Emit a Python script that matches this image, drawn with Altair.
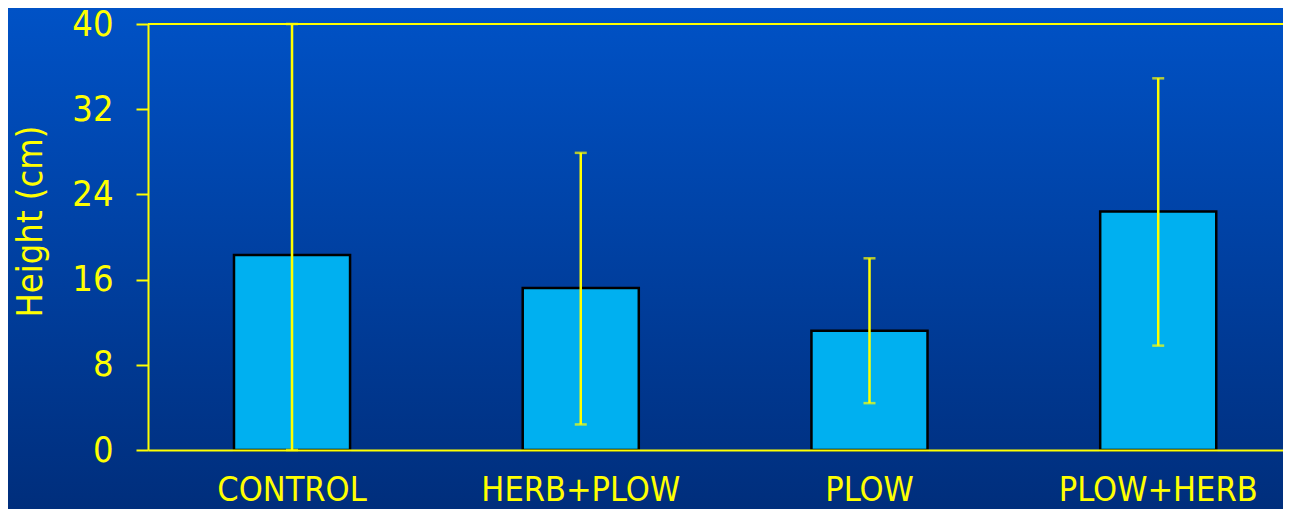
import altair as alt
import pandas as pd

categories = ["CONTROL", "HERB+PLOW", "PLOW", "PLOW+HERB"]
means = [18.3, 15.2, 11.2, 22.4]
err_low = [0.0, 2.4, 4.4, 9.8]
err_high = [40.0, 27.9, 18.0, 34.9]
y_ticks = [0, 8, 16, 24, 32, 40]

df = pd.DataFrame({"treatment": categories, "height": means, "lo": err_low, "hi": err_high})
bg_df = pd.DataFrame({"k": [0]})

W, H = 1135, 426
PAD = {"left": 140, "top": 16, "right": 0, "bottom": 59}
FONT = "DejaVu Sans Condensed, DejaVu Sans, sans-serif"
YEL = "#FFFF00"

xscale = alt.Scale(domain=categories, paddingInner=0.598, paddingOuter=0.2645, align=0.563)
x_axis = alt.Axis(title=None, labelAngle=0, ticks=False, domainColor=YEL, domainWidth=2,
                  labelColor=YEL, labelFontSize=34, labelFont=FONT, labelPadding=50,
                  labelBaseline="alphabetic", labelLimit=0, zindex=1)
x = alt.X("treatment:N", sort=categories, scale=xscale, axis=x_axis)

yscale = alt.Scale(domain=[0, 40], nice=False, zero=True)
y_axis = alt.Axis(values=y_ticks, grid=False, domainColor=YEL, domainWidth=2, tickColor=YEL,
                  tickWidth=2, tickSize=12, labelColor=YEL, labelFontSize=36, labelFont=FONT,
                  labelPadding=23, title="Height (cm)", titleFontSize=36, titleFont=FONT,
                  titleColor=YEL, titleFontWeight="normal", titleAngle=270, titleX=-107,
                  titleY=197, titleBaseline="alphabetic", titleAlign="center", zindex=1)
y = alt.Y("height:Q", scale=yscale, axis=y_axis)

grad = alt.Gradient(gradient="linear",
                    stops=[alt.GradientStop(color="#0052C6", offset=0),
                           alt.GradientStop(color="#002E7C", offset=1)],
                    x1=0, x2=0, y1=0, y2=1)

bg = alt.Chart(bg_df).mark_rect(color=grad, clip=False).encode(
    x=alt.value(-PAD["left"]), x2=alt.value(W + 10),
    y=alt.value(-PAD["top"]), y2=alt.value(H + PAD["bottom"]))

bars = alt.Chart(df).mark_bar(fill="#00B0F0", stroke="black", strokeWidth=2.5).encode(x=x, y=y)

top_line = alt.Chart(bg_df).mark_rule(color=YEL, strokeWidth=2).encode(y=alt.datum(40))

err = alt.Chart(df).mark_rule(color=YEL, strokeWidth=2.5).encode(
    x=x, y=alt.Y("lo:Q", scale=yscale), y2="hi:Q")
cap_hi = alt.Chart(df).mark_tick(color=YEL, size=12, thickness=2.5).encode(
    x=x, y=alt.Y("hi:Q", scale=yscale))
cap_lo = alt.Chart(df).mark_tick(color=YEL, size=12, thickness=2.5).encode(
    x=x, y=alt.Y("lo:Q", scale=yscale))

chart = alt.layer(bg, bars, top_line, err, cap_hi, cap_lo).properties(
    width=W, height=H, padding=PAD, autosize=alt.AutoSizeParams(type="none"),
    background="#003A96"
).configure_view(stroke=None)

chart.save("out.html", embed_options={"renderer": "svg", "actions": False})
